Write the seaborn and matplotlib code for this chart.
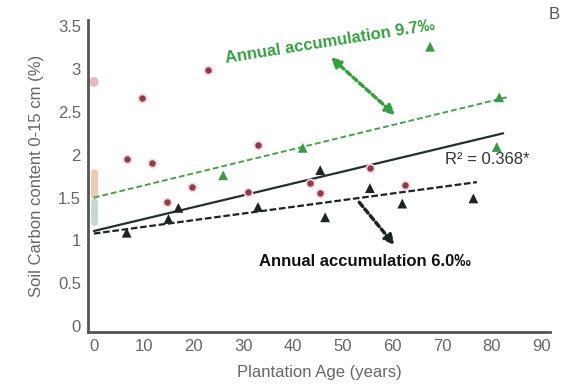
import matplotlib
matplotlib.use("Agg")
import matplotlib.pyplot as plt
import seaborn as sns
import pandas as pd

# ---- data ----
red_x = [6.7, 9.7, 11.7, 14.7, 19.7, 23.0, 31.0, 33.0, 43.5, 45.5, 55.5, 62.6]
red_y = [1.95, 2.66, 1.90, 1.45, 1.62, 2.99, 1.56, 2.11, 1.67, 1.55, 1.84, 1.65]

black_x = [6.6, 15.0, 17.0, 33.0, 45.5, 46.5, 55.5, 62.0, 76.3]
black_y = [1.09, 1.25, 1.38, 1.39, 1.82, 1.27, 1.61, 1.43, 1.49]

green_x = [26.0, 42.0, 67.6, 81.0, 81.5]
green_y = [1.76, 2.08, 3.26, 2.09, 2.67]

ref_x = [0, 0, 0]
ref_y = [2.85, 1.65, 1.32]

green_fit_x = [0, 83]
green_fit_y = [1.50, 2.67]
black_fit_x = [0, 82.3]
black_fit_y = [1.11, 2.25]
black_dash_x = [0, 77]
black_dash_y = [1.08, 1.68]

xticks = [0, 10, 20, 30, 40, 50, 60, 70, 80, 90]
yticks = [0, 0.5, 1, 1.5, 2, 2.5, 3, 3.5]
ytick_labels = ["0", "0.5", "1", "1.5", "2", "2.5", "3", "3.5"]

sns.set_theme(style="white")
plt.rcParams['font.family'] = ['Liberation Sans', 'DejaVu Sans']

fig = plt.figure(figsize=(5.67, 3.88), dpi=100)
ax = fig.add_axes([0.155, 0.144, 0.815, 0.804])

red_c = "#8e3b4c"
green_c = "#3a9a48"
black_c = "#1c2424"

# reference (age 0) faded points
sns.scatterplot(x=ref_x[:1], y=ref_y[:1], ax=ax, color="#dcaab2", s=50, marker="o",
                edgecolor="none", alpha=0.8, zorder=2)
ax.plot([0, 0], [1.52, 1.80], color="#e8c0a0", lw=5, alpha=0.8, zorder=2)
ax.plot([0, 0], [1.22, 1.45], color="#9cc0b8", lw=5, alpha=0.6, zorder=2)

# fit lines
sns.lineplot(x=green_fit_x, y=green_fit_y, ax=ax, color="#4aa050", lw=1.4,
             linestyle=(0, (3, 1.5)), zorder=3)
sns.lineplot(x=black_fit_x, y=black_fit_y, ax=ax, color="#243030", lw=1.6, zorder=3)
sns.lineplot(x=black_dash_x, y=black_dash_y, ax=ax, color="#1c2424", lw=1.6,
             linestyle=(0, (3, 1.2)), zorder=3)

# points
sns.scatterplot(x=red_x, y=red_y, ax=ax, color=red_c, s=34, marker="o",
                edgecolor="#f6d6dc", linewidth=1.2, zorder=4)
sns.scatterplot(x=black_x, y=black_y, ax=ax, color=black_c, s=50, marker="^",
                edgecolor="none", zorder=4)
sns.scatterplot(x=green_x, y=green_y, ax=ax, color=green_c, s=50, marker="^",
                edgecolor="none", zorder=4)

ax.set_xlim(-1.2, 91.7)
ax.set_ylim(-0.07, 3.57)
ax.set_xticks(xticks)
ax.set_yticks(yticks)
ax.set_yticklabels(ytick_labels)
ax.tick_params(axis="both", colors="#666666", labelsize=12, length=0, pad=5)
for s in ["top", "right"]:
    ax.spines[s].set_visible(False)
for s in ["left", "bottom"]:
    ax.spines[s].set_color("#555555")
    ax.spines[s].set_linewidth(2.0)

ax.set_xlabel("Plantation Age (years)", fontsize=12, color="#666666", labelpad=8)
ax.set_ylabel("Soil Carbon content 0-15 cm (%)", fontsize=12, color="#666666", labelpad=10)

# annotations
ax.text(47.5, 3.31, "Annual accumulation 9.7\u2030", color="#35a040", fontsize=12,
        fontweight="bold", rotation=9, ha="center", va="center")
ax.annotate("", xy=(61.0, 2.44), xytext=(47.2, 3.16),
            arrowprops=dict(arrowstyle="<|-|>", color="#35a040", lw=2.5,
                            linestyle=(0, (1.5, 1)), mutation_scale=14))
ax.text(54.5, 0.75, "Annual accumulation 6.0\u2030", color="#111111", fontsize=12,
        fontweight="bold", ha="center", va="center")
ax.annotate("", xy=(60.8, 0.92), xytext=(53.0, 1.47),
            arrowprops=dict(arrowstyle="-|>", color="#1c2424", lw=2.5,
                            linestyle=(0, (1.5, 1)), mutation_scale=14))
ax.text(79.0, 1.94, "R\u00b2 = 0.368*", color="#333333", fontsize=12,
        ha="center", va="center")
fig.text(0.978, 0.962, "B", color="#555555", fontsize=12, ha="center", va="center")

fig.savefig("out.png", dpi=100)
